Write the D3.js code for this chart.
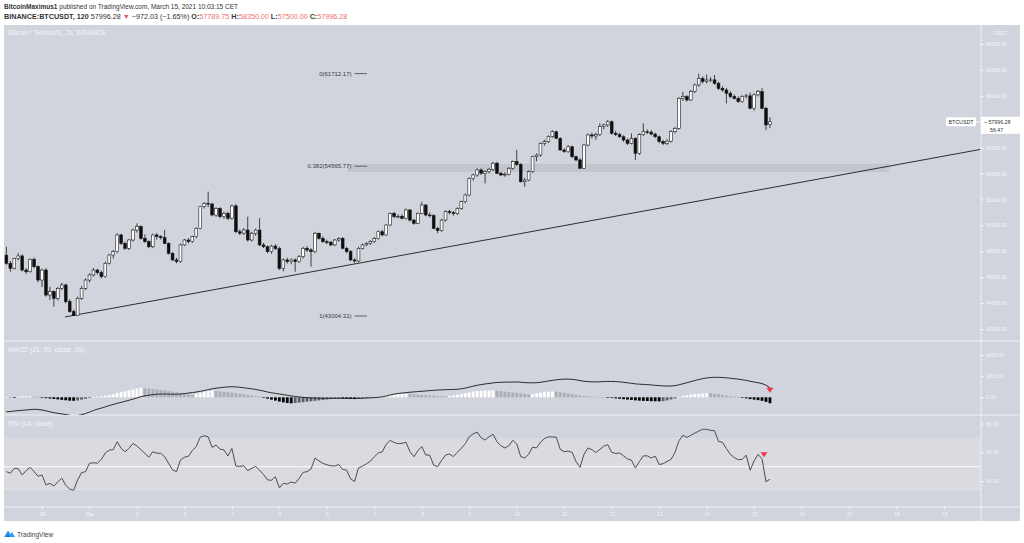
<!DOCTYPE html>
<html><head><meta charset="utf-8">
<script src="https://cdn.jsdelivr.net/npm/d3@7"></script>
<style>
html,body{margin:0;padding:0;background:#fff;}
svg{display:block;font-family:"Liberation Sans",Arial,sans-serif;}
</style></head><body>
<svg id="c" width="1024" height="543"></svg>
<script>
// ---------------- DATA ----------------
const firstBar = "2021-02-27T06:00:00Z";   // 2h bars
const barHours = 2;
const opens = [
47700,47070,46690,47450,47640,46550,46420,47380,46810,45780,
46550,44620,44880,44370,45140,45400,44110,43340,43030,44370,
45140,45780,46170,46550,46350,46040,47070,47710,47970,49260,
48610,48230,48870,49640,49900,49000,48740,48350,49260,49130,
49050,48610,47840,47330,47200,48490,48870,48740,49130,49770,
51440,51700,51650,50800,51310,50670,50930,50550,51500,49510,
49400,49640,48870,49390,49640,48490,48350,47970,48400,48200,
46680,47330,47200,47330,47200,47580,48230,48100,47970,49390,
49000,48740,48700,48490,48870,49000,48230,47970,47330,47250,
48230,48490,48610,48740,49000,49510,49260,50030,50930,50670,
50700,50550,51190,50410,50160,50930,51570,50800,50750,49770,
49600,50410,51060,51000,50930,51310,51830,52340,53630,53890,
54280,54020,54150,54330,54800,54020,53890,53950,54410,54920,
54700,53370,53500,54150,55300,55430,56330,56460,56840,57230,
56720,55820,55690,56070,55300,55050,54410,56200,56980,56900,
57000,57620,57750,58000,57110,57000,56840,56590,56330,56700,
55560,57000,57230,57200,57050,56840,56460,56330,56500,57230,
57490,59810,59940,59680,60320,60840,61350,61100,61220,61230,
60970,60580,60450,60200,59940,59800,59550,59940,60000,59040,
60070,60320,59040,57789.75];
const highs = [
48350,47250,47500,47850,47760,46700,47450,47520,46900,46650,
46700,45260,45000,45250,45560,45500,44300,43500,44500,45300,
45900,46300,46700,46650,46500,47200,47800,48100,49380,49350,
48750,48950,49750,50160,50000,49300,48850,49350,49400,49250,
49640,48700,47950,47500,48600,48950,49000,49200,49850,51500,
51800,52600,51750,51400,51400,51050,51060,51600,51650,49700,
49800,50670,49500,49750,50550,48650,48450,48500,48550,48350,
47450,47500,47450,47450,47700,48350,48400,48250,49500,49450,
49150,48900,48800,48950,49100,49100,48350,48100,47450,48350,
48600,48700,48850,49100,49600,49650,50100,51000,51050,50850,
50850,51300,51250,50500,51000,51830,51650,51000,50850,49900,
50500,51150,51200,51100,51400,51900,52450,53700,54000,54400,
54400,54250,54450,54900,54900,54150,54100,54500,55000,55820,
54800,53650,54250,55380,55550,56400,56600,56950,57350,57300,
56800,55950,56200,56150,55400,55200,56300,57100,57150,57150,
57880,57850,58130,58100,57300,57150,56950,56700,57100,56800,
57100,57880,57400,57350,57150,56950,56600,56650,57350,57600,
59900,60320,60050,60450,60950,61712,61500,61640,61450,61600,
61100,60750,60600,60350,60100,59950,60050,60150,60250,60200,
60450,60600,59150,58350];
const lows = [
46950,46420,46600,47300,46450,46250,46350,46700,45600,45250,
44500,44240,43720,44200,45000,43980,43250,43004,43010,44250,
45000,45600,46050,46200,45900,45950,46980,47450,47850,48500,
48100,48100,48750,49450,48900,48650,48250,48250,48900,48900,
48550,47750,47250,47070,47100,48400,48600,48650,49000,49700,
51300,51400,50700,50650,50550,50500,50400,50450,49400,49250,
49250,48750,48750,49200,48400,48250,47850,47800,48100,46550,
46450,47050,47000,46420,47100,47450,47950,46810,47850,48900,
48650,48550,48400,48400,48750,48150,47850,47250,47100,47150,
48150,48400,48500,48650,48900,49150,49200,49950,50550,50550,
50450,50450,50300,50050,50100,50850,50700,50600,49700,49400,
49500,50300,50850,50750,50800,51200,51700,52250,53450,53750,
53900,53240,54000,54200,53950,53800,53750,53850,54300,54600,
53300,52980,53400,54050,54950,55300,56150,56350,56750,56650,
55750,55600,55600,55200,54950,54350,54350,56100,56700,56600,
56900,57400,57600,57000,56900,56750,56450,56200,56250,55050,
55450,56900,57050,56950,56750,56350,56200,56200,56400,57100,
57400,59600,59550,59600,60200,60700,60950,60950,61050,60850,
60450,60300,59420,59800,59700,59450,59450,59800,58950,58850,
59950,58950,57360,57500];
const closes = [
47070,46690,47450,47640,46550,46420,47380,46810,45780,46550,
44620,44880,44370,45140,45400,44110,43340,43030,44370,45140,
45780,46170,46550,46350,46040,47070,47710,47970,49260,48610,
48230,48870,49640,49900,49000,48740,48350,49260,49130,49050,
48610,47840,47330,47200,48490,48870,48740,49130,49770,51440,
51700,51650,50800,51310,50670,50930,50550,51500,49510,49400,
49640,48870,49390,49640,48490,48350,47970,48400,48200,46680,
47330,47200,47330,47200,47580,48230,48100,47970,49390,49000,
48740,48700,48490,48870,49000,48230,47970,47330,47250,48230,
48490,48610,48740,49000,49510,49260,50030,50930,50670,50700,
50550,51190,50410,50160,50930,51570,50800,50750,49770,49600,
50410,51060,51000,50930,51310,51830,52340,53630,53890,54280,
54020,54150,54330,54800,54020,53890,53950,54410,54920,54700,
53370,53500,54150,55300,55430,56330,56460,56840,57230,56720,
55820,55690,56070,55300,55050,54410,56200,56980,56900,57000,
57620,57750,58000,57110,57000,56840,56590,56330,56700,55560,
57000,57230,57200,57050,56840,56460,56330,56500,57230,57490,
59810,59940,59680,60320,60840,61350,61100,61220,61230,60970,
60580,60450,60200,59940,59800,59550,59940,60000,59040,60070,
60320,59040,57750,57996.28];
const macdLine = [
-1370,-1340,-1300,-1260,-1230,-1200,-1160,-1130,-1150,-1200,
-1280,-1370,-1450,-1520,-1570,-1630,-1700,-1760,-1720,-1650,
-1530,-1400,-1250,-1120,-1020,-900,-780,-680,-570,-480,
-380,-280,-170,-60,60,140,200,250,290,310,
310,300,290,290,310,350,400,450,500,560,
640,720,800,860,910,950,980,1000,980,950,
900,850,800,740,670,590,500,430,370,310,
250,190,130,80,30,-10,-40,-60,-70,-80,
-90,-95,-95,-95,-95,-95,-100,-110,-110,-100,
-90,-70,-50,-30,0,40,120,220,300,360,
400,440,480,510,540,570,600,630,660,690,
700,720,730,740,760,800,870,960,1060,1140,
1200,1260,1310,1360,1400,1420,1430,1440,1440,1450,
1430,1390,1370,1370,1380,1420,1480,1540,1600,1650,
1690,1720,1720,1700,1650,1580,1520,1480,1460,1460,
1470,1490,1500,1500,1490,1460,1420,1370,1320,1270,
1240,1220,1200,1170,1130,1100,1080,1060,1070,1100,
1180,1280,1380,1480,1580,1680,1760,1830,1870,1890,
1890,1870,1840,1800,1760,1720,1660,1600,1520,1440,
1380,1300,1150,900];
const macdHist = [
40,30,-10,60,90,100,110,80,30,-30,
-80,-120,-160,-200,-240,-280,-320,-330,-300,-220,
-140,-60,20,60,100,150,200,280,400,500,
580,660,750,830,900,860,820,780,740,700,
650,600,540,480,420,360,280,240,300,420,
530,610,640,600,560,520,480,440,390,340,
290,230,170,110,50,-40,-130,-220,-310,-400,
-480,-540,-570,-540,-500,-460,-420,-380,-330,-290,
-250,-210,-170,-130,-100,-110,-130,-160,-170,-140,
-100,-70,-40,-10,30,60,120,200,260,300,
320,330,300,270,240,220,200,180,150,120,
100,90,130,180,240,300,380,470,550,600,
630,640,650,660,620,580,540,500,460,420,
370,320,270,300,380,450,500,530,540,520,
480,420,360,300,240,180,120,90,60,40,
20,10,-20,-60,-100,-140,-180,-220,-250,-290,
-320,-340,-350,-370,-380,-380,-360,-300,-200,-100,
40,120,190,250,300,340,370,390,380,340,
290,230,170,110,50,10,-40,-100,-170,-220,
-270,-330,-430,-560];
const rsi = [
46.5,45.4,48.8,48.5,44.2,47.2,49.5,46.5,43.3,44.2,
37.2,38.4,36.5,39.5,42.0,37.0,34.4,33.5,40.7,45.8,
46.5,52.3,52.7,52.4,55.0,59.5,61.5,61.8,67.3,62.7,
60.4,62.7,66.2,64.3,61.8,59.3,56.5,60.4,59.3,59.3,
56.9,52.3,47.7,46.5,54.6,56.5,57.2,61.2,64.0,70.5,
71.5,70.8,63.4,65.0,62.1,61.6,57.4,62.7,50.4,50.2,
50.6,47.2,48.8,50.2,47.5,44.5,40.8,40.5,43.0,35.2,
38.4,37.9,39.3,38.5,41.8,46.0,46.5,48.3,56.0,54.0,
52.3,51.3,50.6,50.4,51.5,48.0,47.6,41.5,39.7,49.0,
50.3,52.0,53.8,56.8,59.5,60.2,65.5,68.2,66.8,66.0,
66.2,67.0,60.5,56.9,61.0,64.0,58.1,58.0,51.0,50.0,
54.3,58.0,58.8,57.0,60.0,62.8,66.0,70.8,72.8,74.0,
70.0,68.5,70.8,72.5,67.3,64.5,63.0,64.5,68.3,65.8,
57.0,56.0,58.5,63.5,63.0,67.0,69.5,70.7,70.6,70.5,
62.0,60.4,60.8,60.0,53.5,49.5,58.5,63.0,61.8,59.8,
62.0,64.2,65.3,60.0,59.1,59.5,57.5,55.3,54.5,49.0,
53.5,57.5,57.5,56.0,57.3,51.5,52.0,53.6,55.0,59.8,
68.0,71.8,70.3,71.8,73.3,74.7,76.0,76.0,75.2,75.0,
67.5,67.0,62.5,58.5,56.3,54.8,55.0,58.0,47.5,54.0,
58.5,55.5,39.5,41.2];

const dayTickDates = ["2021-02-28","2021-03-01","2021-03-02","2021-03-03","2021-03-04","2021-03-05","2021-03-06","2021-03-07","2021-03-08","2021-03-09","2021-03-10","2021-03-11","2021-03-12","2021-03-13","2021-03-14","2021-03-15","2021-03-16","2021-03-17","2021-03-18","2021-03-19"];
const dayTickLabels = ["28","Mar","2","3","4","5","6","7","8","9","10","11","12","13","14","15","16","17","18","19"];
// 58000 is hidden behind the last-price tag in the reference
const priceTicks = [42000,44000,46000,48000,50000,52000,54000,56000,60000,62000,64000];
const macdTicks = [0,2000,4000];
const rsiTicks = [40,60,80];
const rsiBand = [70,34];
const rsiMid = 50;

const fibLevels = ["0","0.382","1"];
const fibPrices = [61712.17,54565.77,43004.31];
const fibStart = "2021-03-06T14:00:00Z", fibTickEnd = "2021-03-06T20:20:00Z";
const fibZone = {end:"2021-03-17T19:50:00Z", lo:54150, hi:54720};
const trendLine = [{date:"2021-02-28T11:40:00Z", price:42930},{date:"2021-03-19T18:20:00Z", price:55860}];
const lastPrice = 57996.28, countdown = "56:47";
const macdMarker = {date:"2021-03-15T08:00:00Z", value:620};
const rsiMarker = {date:"2021-03-15T05:00:00Z", value:58};

// ---------------- LAYOUT ----------------
const svg = d3.select("#c");
const L = 4, R = 981, RE = 1020, TOP = 25, P1 = 341, P2 = 415, P3 = 507, BOT = 521;
const BG = "#d1d4dc", AX = "#f4f5f8", SEP = "#eef0f4";

const times = closes.map((_, i) => new Date(new Date(firstBar).getTime() + i * barHours * 3600e3));
const x = d3.scaleUtc().domain([new Date("2021-02-28T00:00:00Z"), new Date("2021-03-19T00:00:00Z")]).range([42, 944]);
const yP = d3.scaleLinear().domain([42000, 64000]).range([329, 44]);
const yM = d3.scaleLinear().domain([0, 4000]).range([397.3, 355]);
const yR = d3.scaleLinear().domain([40, 80]).range([481, 423.5]);

svg.append("rect").attr("x", L).attr("y", TOP).attr("width", RE - L).attr("height", BOT - TOP).attr("fill", BG);

const defs = svg.append("defs");
function clip(id, y0, y1) {
  defs.append("clipPath").attr("id", id).append("rect").attr("x", L).attr("y", y0).attr("width", R - L).attr("height", y1 - y0);
}
clip("cp", TOP, P1); clip("cm", P1, P2); clip("cr", P2, P3);

// RSI band
const gR = svg.append("g").attr("clip-path", "url(#cr)");
gR.append("rect").attr("x", L).attr("width", R - L).attr("y", yR(rsiBand[0])).attr("height", yR(rsiBand[1]) - yR(rsiBand[0])).attr("fill", "#d9dbe1");
gR.append("line").attr("x1", L).attr("x2", R).attr("y1", yR(rsiMid)).attr("y2", yR(rsiMid)).attr("stroke", "#f3f4f7").attr("stroke-width", 1.2);
gR.append("line").attr("x1", L).attr("x2", R).attr("y1", yR(rsiBand[1])).attr("y2", yR(rsiBand[1])).attr("stroke", "#e3e5ea").attr("stroke-width", 0.8);

// separators
[P1, P2, P3].forEach(yv => svg.append("line").attr("x1", L).attr("x2", RE).attr("y1", yv).attr("y2", yv).attr("stroke", SEP).attr("stroke-width", 1));
svg.append("line").attr("x1", R).attr("x2", R).attr("y1", TOP).attr("y2", BOT).attr("stroke", SEP).attr("stroke-width", 1);

// ---------------- PRICE PANEL ----------------
const gP = svg.append("g").attr("clip-path", "url(#cp)");
gP.append("rect").attr("x", x(new Date(fibStart)) - 7).attr("width", x(new Date(fibZone.end)) - x(new Date(fibStart)) + 7)
  .attr("y", yP(fibZone.hi)).attr("height", yP(fibZone.lo) - yP(fibZone.hi)).attr("fill", "#c3c6ce").attr("stroke", "#bcbfc7").attr("stroke-width", 0.5);
fibPrices.forEach((p, i) => {
  gP.append("line").attr("x1", x(new Date(fibStart))).attr("x2", x(new Date(fibTickEnd))).attr("y1", yP(p)).attr("y2", yP(p)).attr("stroke", "#555").attr("stroke-width", 0.9);
  gP.append("text").attr("x", x(new Date(fibStart)) - 3).attr("y", yP(p)).attr("dy", "0.35em").attr("text-anchor", "end")
    .attr("font-size", 6).attr("fill", "#3a3a3a").text(`${fibLevels[i]}(${p.toFixed(2)})`);
});
gP.append("line").attr("x1", x(new Date(trendLine[0].date))).attr("y1", yP(trendLine[0].price))
  .attr("x2", x(new Date(trendLine[1].date))).attr("y2", yP(trendLine[1].price)).attr("stroke", "#2d2d2d").attr("stroke-width", 1);

const bw = 2.8;
const cg = gP.append("g");
cg.selectAll("line.w").data(times).join("line").attr("class", "w")
  .attr("x1", (d) => x(d)).attr("x2", (d) => x(d))
  .attr("y1", (d, i) => yP(highs[i])).attr("y2", (d, i) => yP(lows[i]))
  .attr("stroke", "#1c1c1c").attr("stroke-width", 0.8);
cg.selectAll("rect.b").data(times).join("rect").attr("class", "b")
  .attr("x", d => x(d) - bw / 2).attr("width", bw)
  .attr("y", (d, i) => yP(Math.max(opens[i], closes[i])))
  .attr("height", (d, i) => Math.max(0.8, Math.abs(yP(opens[i]) - yP(closes[i]))))
  .attr("fill", (d, i) => closes[i] >= opens[i] ? "#ffffff" : "#0d0d0d")
  .attr("stroke", "#1c1c1c").attr("stroke-width", 0.6);

const ax = svg.append("g").attr("transform", `translate(${R},0)`)
  .call(d3.axisRight(yP).tickValues(priceTicks).tickFormat(d => d.toFixed(2)).tickSize(3).tickPadding(2));
ax.select(".domain").remove();
ax.selectAll("line").attr("stroke", AX);
ax.selectAll("text").attr("fill", AX).attr("font-size", 5).attr("font-family", "Liberation Sans, Arial, sans-serif");
svg.append("text").attr("x", 1000).attr("y", 33).attr("text-anchor", "middle").attr("dy", "0.35em").attr("font-size", 5).attr("fill", AX).text("USDT");

const yl = yP(lastPrice);
svg.append("rect").attr("x", 946).attr("y", yl - 4.5).attr("width", 30).attr("height", 9).attr("rx", 1.5).attr("fill", "#fff");
svg.append("text").attr("x", 961).attr("y", yl).attr("dy", "0.35em").attr("text-anchor", "middle").attr("font-size", 5.3).attr("fill", "#333").text("BTCUSDT");
svg.append("line").attr("x1", 976).attr("x2", 981).attr("y1", yl).attr("y2", yl).attr("stroke", "#fff").attr("stroke-width", 0.8);
svg.append("rect").attr("x", R).attr("y", yl - 5).attr("width", RE - R).attr("height", 17).attr("fill", "#fff");
svg.append("text").attr("x", R + 3).attr("y", yl).attr("dy", "0.35em").attr("font-size", 5.3).attr("fill", "#333").text("– " + lastPrice.toFixed(2));
svg.append("text").attr("x", R + 9).attr("y", yl + 8).attr("dy", "0.35em").attr("font-size", 5.3).attr("fill", "#333").text(countdown);

svg.append("text").attr("x", 8).attr("y", 33).attr("dy", "0.35em").attr("font-size", 6.7).attr("fill", AX).text("Bitcoin / TetherUS, 2h, BINANCE");

// ---------------- MACD ----------------
const gM = svg.append("g").attr("clip-path", "url(#cm)");
gM.selectAll("rect").data(times).join("rect")
  .attr("x", d => x(d) - bw / 2).attr("width", bw)
  .attr("y", (d, i) => Math.min(yM(0), yM(macdHist[i])))
  .attr("height", (d, i) => Math.max(0.6, Math.abs(yM(macdHist[i]) - yM(0))))
  .attr("fill", (d, i) => {
    const v = macdHist[i], p = i > 0 ? macdHist[i - 1] : v;
    if (v >= 0) return v >= p ? "#ffffff" : "#abaeb5";
    return v <= p ? "#050505" : "#5d5f64";
  });
gM.append("path").datum(times).attr("fill", "none").attr("stroke", "#2a2a2a").attr("stroke-width", 1)
  .attr("d", d3.line().x(d => x(d)).y((d, i) => yM(macdLine[i])));
const mx = x(new Date(macdMarker.date)), my = yM(macdMarker.value);
svg.append("path").attr("d", `M${mx - 3.5},${my - 3}L${mx + 3.5},${my - 3}L${mx},${my + 2}Z`).attr("fill", "#f23645");
svg.append("text").attr("x", 8).attr("y", 350).attr("dy", "0.35em").attr("font-size", 6.8).attr("fill", AX).text("MACD (21, 50, close, 26)");
const axM = svg.append("g").attr("transform", `translate(${R},0)`)
  .call(d3.axisRight(yM).tickValues(macdTicks).tickFormat(d => d.toFixed(2)).tickSize(3).tickPadding(2));
axM.select(".domain").remove();
axM.selectAll("line").attr("stroke", AX);
axM.selectAll("text").attr("fill", AX).attr("font-size", 5).attr("font-family", "Liberation Sans, Arial, sans-serif");

// ---------------- RSI ----------------
gR.append("path").datum(times).attr("fill", "none").attr("stroke", "#4d4d4d").attr("stroke-width", 1)
  .attr("d", d3.line().x(d => x(d)).y((d, i) => yR(rsi[i])));
const rx = x(new Date(rsiMarker.date)), ry = yR(rsiMarker.value);
svg.append("path").attr("d", `M${rx - 3.5},${ry - 3}L${rx + 3.5},${ry - 3}L${rx},${ry + 2}Z`).attr("fill", "#f23645");
svg.append("text").attr("x", 8).attr("y", 424).attr("dy", "0.35em").attr("font-size", 6.8).attr("fill", AX).text("RSI (14, close)");
const axR = svg.append("g").attr("transform", `translate(${R},0)`)
  .call(d3.axisRight(yR).tickValues(rsiTicks).tickFormat(d => d.toFixed(2)).tickSize(3).tickPadding(2));
axR.select(".domain").remove();
axR.selectAll("line").attr("stroke", AX);
axR.selectAll("text").attr("fill", AX).attr("font-size", 5).attr("font-family", "Liberation Sans, Arial, sans-serif");

// ---------------- X AXIS ----------------
const axX = svg.append("g").attr("transform", `translate(0,${P3})`)
  .call(d3.axisBottom(x).tickValues(dayTickDates.map(d => new Date(d + "T00:00:00Z"))).tickFormat((d, i) => dayTickLabels[i]).tickSize(2.5).tickPadding(3));
axX.select(".domain").remove();
axX.selectAll("line").attr("stroke", AX);
axX.selectAll("text").attr("fill", AX).attr("font-size", 5).attr("font-family", "Liberation Sans, Arial, sans-serif");

// ---------------- HEADER ----------------
const h1 = svg.append("text").attr("x", 4).attr("y", 8.5).attr("font-size", 6.5).attr("fill", "#333");
h1.append("tspan").attr("font-weight", "bold").text("BitcoinMaximus1");
h1.append("tspan").text(" published on TradingView.com, March 15, 2021 10:03:15 CET");
const h2 = svg.append("text").attr("x", 4).attr("y", 19).attr("font-size", 7.2).attr("fill", "#333");
h2.append("tspan").attr("font-weight", "bold").text("BINANCE:BTCUSDT, 120");
h2.append("tspan").text(" 57996.28 ");
h2.append("tspan").attr("fill", "#ef5350").text("▼");
h2.append("tspan").text(" −972.03 (−1.65%) ");
[["O:", "57789.75"], [" H:", "58350.00"], [" L:", "57500.00"], [" C:", "57996.28"]].forEach(([k, v]) => {
  h2.append("tspan").attr("font-weight", "bold").text(k);
  h2.append("tspan").attr("fill", "#ef6f6c").text(v);
});

// ---------------- LOGO ----------------
const lg = svg.append("g").attr("transform", "translate(4,529)");
lg.append("path").attr("d", "M0,8 L4,1.5 L6.5,5 L8,3 L11,8 Z").attr("fill", "#2e9ef4");
lg.append("path").attr("d", "M2.2,8 L4,5 L5.6,8 Z").attr("fill", "#1565c0");
svg.append("text").attr("x", 17).attr("y", 537).attr("font-size", 6.6).attr("fill", "#444").text("TradingView");
</script>
</body></html>
